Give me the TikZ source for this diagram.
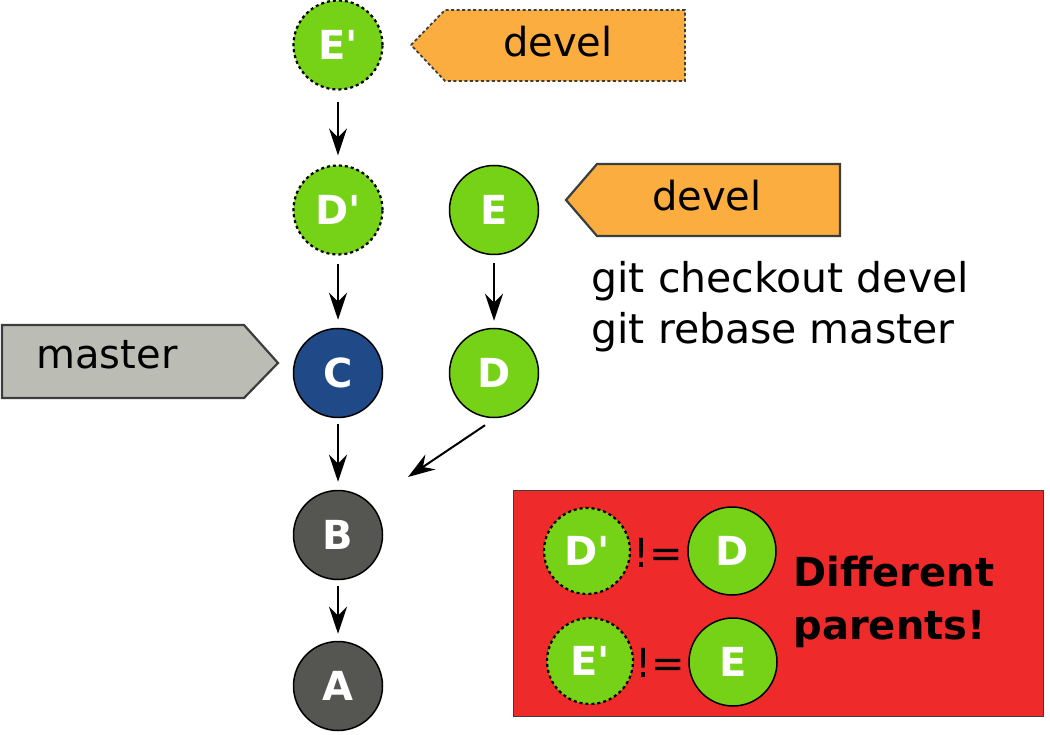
\documentclass[tikz,border=0pt]{standalone}
\usepackage{fontspec}
\setmainfont{DejaVu Sans}
\usetikzlibrary{arrows.meta}
\definecolor{commitgreen}{RGB}{117,210,23}
\definecolor{commitblue}{RGB}{31,74,135}
\definecolor{commitgray}{RGB}{85,86,81}
\definecolor{branchorange}{RGB}{251,173,63}
\definecolor{branchgray}{RGB}{187,189,181}
\definecolor{warnred}{RGB}{238,42,43}
\definecolor{edgegray}{RGB}{60,62,62}
\newcommand{\prm}{\textquotesingle}
\tikzset{
  commit/.style={circle, minimum size=89pt, inner sep=0pt, draw=black, line width=1.5pt,
    text=white, font=\fontsize{40}{40}\selectfont\bfseries},
  rewritten/.style={commit, dash pattern=on 3pt off 3pt, line width=2.2pt},
  parent/.style={-{Stealth[length=27pt,width=18pt,inset=9pt]}, line width=2pt},
  branchtext/.style={font=\fontsize{40}{40}\selectfont, text=black},
  gittext/.style={font=\fontsize{41}{51}\selectfont, align=left, anchor=west},
}
\begin{document}
\begin{tikzpicture}[x=1pt,y=-1pt]
\useasboundingbox (0,0) rectangle (1050,735);

% commits
\node[rewritten, fill=commitgreen] (Ep) at (338,45) {E\prm};
\node[rewritten, fill=commitgreen] (Dp) at (338,210) {D\prm};
\node[commit, fill=commitgreen] (E) at (494,210) {E};
\node[commit, fill=commitblue] (C) at (338,373) {C};
\node[commit, fill=commitgreen] (D) at (494,373) {D};
\node[commit, fill=commitgray] (B) at (338,535) {B};
\node[commit, fill=commitgray] (A) at (338,686) {A};

% parent links
\draw[parent] ([yshift=-11pt]Ep.south) -- ([yshift=9pt]Dp.north);
\draw[parent] ([yshift=-8pt]Dp.south) -- ([yshift=8pt]C.north);
\draw[parent] ([yshift=-6pt]C.south) -- ([yshift=8pt]B.north);
\draw[parent] ([yshift=-6pt]B.south) -- ([yshift=7pt]A.north);
\draw[parent] ([yshift=-8pt]E.south) -- ([yshift=7pt]D.north);
\coordinate (Dend) at (408,477);
\draw[parent] ([shift={(-9pt,-7pt)}]D.south) -- (Dend);

% branch labels
\draw[edgegray, fill=branchorange, line width=1.8pt, dash pattern=on 3pt off 2.5pt]
  (411,45) -- (445,10) -- (685,10) -- (685,81) -- (445,81) -- cycle;
\node[branchtext] (develnew) at (558,42) {devel};
\draw[edgegray, fill=branchorange, line width=2.2pt]
  (566,200) -- (597,164) -- (840,164) -- (840,236) -- (597,236) -- cycle;
\node[branchtext] (develold) at (707,196) {devel};
\draw[edgegray, fill=branchgray, line width=2.2pt]
  (2,325) -- (244,325) -- (278,363) -- (244,398) -- (2,398) -- cycle;
\node[branchtext] (master) at (107,355) {master};

% commands
\node[gittext] (cmd) at (588,307) {git checkout devel\\git rebase master};

% warning box
\node[draw=edgegray, fill=warnred, line width=1pt, minimum width=530pt, minimum height=226pt,
  inner sep=0pt] (warn) at (778,603) {};
\node[rewritten, fill=commitgreen, minimum size=86pt] (wDp) at (587,551) {D\prm};
\node[commit, fill=commitgreen, minimum size=88pt] (wD) at (732,551) {D};
\node[rewritten, fill=commitgreen, minimum size=86pt] (wEp) at (590,661) {E\prm};
\node[commit, fill=commitgreen, minimum size=88pt] (wE) at (733,662) {E};
\node[font=\fontsize{40}{40}\selectfont] (neq1) at (658,553) {!=};
\node[font=\fontsize{40}{40}\selectfont] (neq2) at (660,663) {!=};
\node[font=\fontsize{40}{53}\selectfont\bfseries, align=left, anchor=west] (diff) at (790,602)
  {Different\\parents!};
\end{tikzpicture}
\end{document}
